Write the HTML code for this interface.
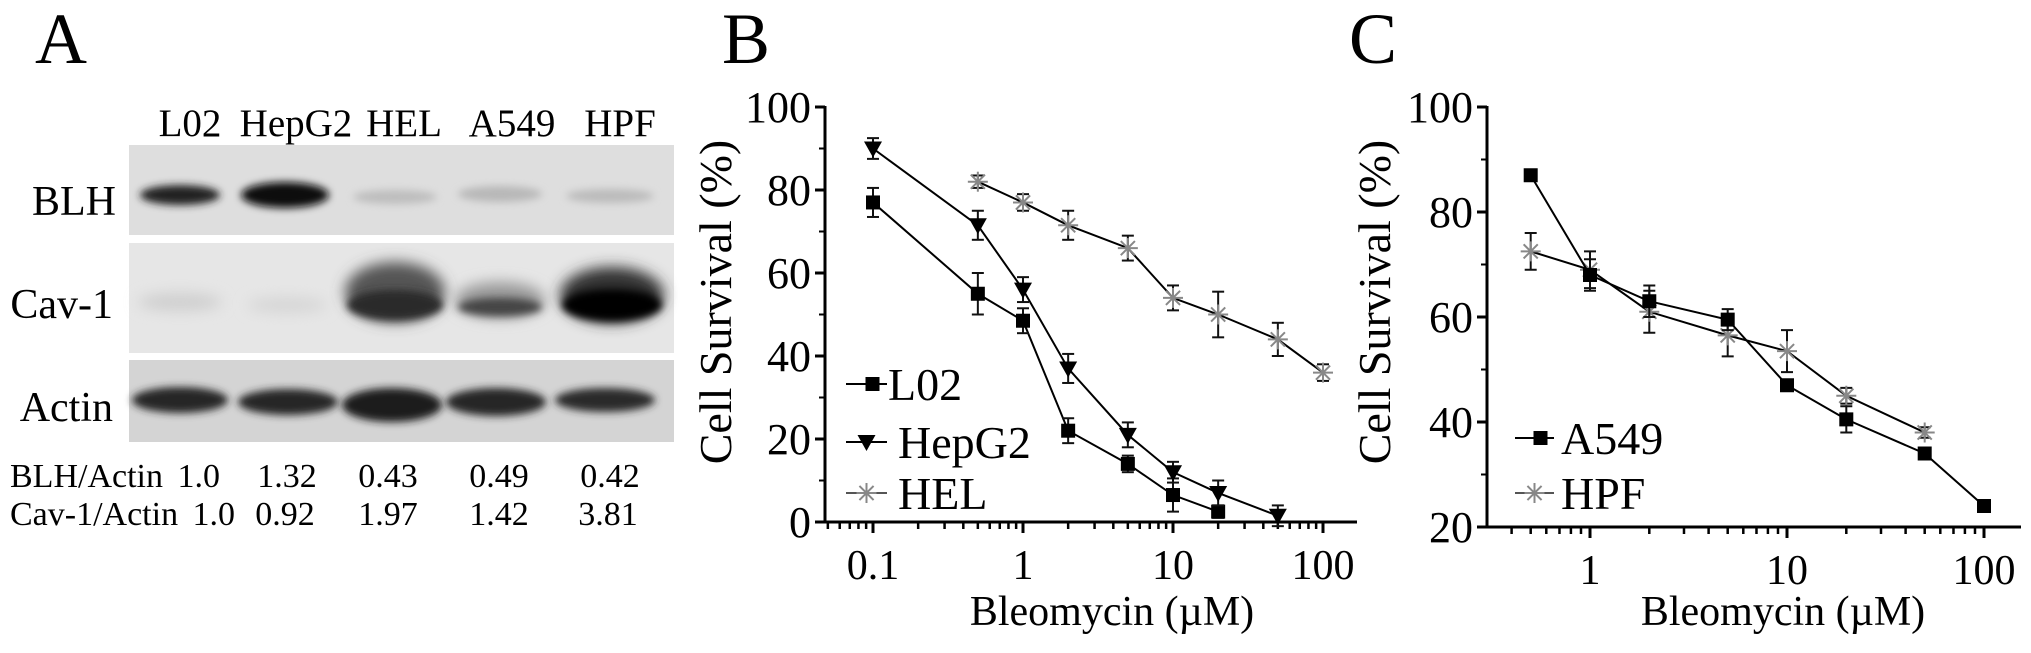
<!DOCTYPE html>
<html><head><meta charset="utf-8">
<style>
html,body{margin:0;padding:0;background:#fff;}
svg, svg text{font-family:"Liberation Serif","Times New Roman",serif;}
</style></head>
<body>
<svg id="fig" width="2031" height="648" viewBox="0 0 2031 648" xmlns="http://www.w3.org/2000/svg" font-family="Liberation Serif, serif">
<defs>
<filter id="blur" x="-30%" y="-80%" width="160%" height="260%"><feGaussianBlur stdDeviation="7"/></filter>
<filter id="blur2" x="-30%" y="-80%" width="160%" height="260%"><feGaussianBlur stdDeviation="4"/></filter>
</defs>
<text x="35" y="63" font-size="72">A</text>
<text x="722" y="63" font-size="72">B</text>
<text x="1349" y="63" font-size="72">C</text>

<g>
  <g font-size="39" text-anchor="middle">
    <text x="190" y="136">L02</text>
    <text x="296" y="136">HepG2</text>
    <text x="404" y="136">HEL</text>
    <text x="512" y="136">A549</text>
    <text x="620" y="136">HPF</text>
  </g>
  <g font-size="42" text-anchor="end">
    <text x="116" y="215">BLH</text>
    <text x="113" y="318">Cav-1</text>
    <text x="113" y="421">Actin</text>
  </g>
  <g>
    <rect x="129" y="145" width="545" height="90" fill="#dedede"/>
    <ellipse cx="180" cy="195" rx="40" ry="10" fill="#222" filter="url(#blur2)"/>
    <ellipse cx="285" cy="195" rx="44" ry="13" fill="#080808" filter="url(#blur2)"/>
    <ellipse cx="395" cy="197" rx="42" ry="7" fill="#bdbdbd" filter="url(#blur2)"/>
    <ellipse cx="500" cy="194" rx="42" ry="8" fill="#b8b8b8" filter="url(#blur2)"/>
    <ellipse cx="610" cy="196" rx="44" ry="7" fill="#bbbbbb" filter="url(#blur2)"/>
  </g>
  <g>
    <rect x="129" y="243" width="545" height="110" fill="#e6e6e6"/>
    <ellipse cx="180" cy="302" rx="42" ry="9" fill="#cfcfcf" filter="url(#blur)"/>
    <ellipse cx="287" cy="305" rx="40" ry="8" fill="#d6d6d6" filter="url(#blur)"/>
    <ellipse cx="395" cy="292" rx="50" ry="30" fill="#555" filter="url(#blur)"/>
    <ellipse cx="395" cy="305" rx="48" ry="15" fill="#2a2a2a" filter="url(#blur2)"/>
    <ellipse cx="500" cy="300" rx="45" ry="18" fill="#999" filter="url(#blur)"/>
    <ellipse cx="500" cy="307" rx="42" ry="9" fill="#444" filter="url(#blur2)"/>
    <ellipse cx="612" cy="295" rx="52" ry="28" fill="#333" filter="url(#blur)"/>
    <ellipse cx="612" cy="305" rx="50" ry="16" fill="#050505" filter="url(#blur2)"/>
  </g>
  <g>
    <rect x="129" y="360" width="545" height="82" fill="#d4d4d4"/>
    <ellipse cx="180" cy="400" rx="48" ry="13" fill="#252525" filter="url(#blur2)"/>
    <ellipse cx="288" cy="402" rx="50" ry="13" fill="#252525" filter="url(#blur2)"/>
    <ellipse cx="392" cy="405" rx="50" ry="17" fill="#1c1c1c" filter="url(#blur2)"/>
    <ellipse cx="496" cy="402" rx="50" ry="14" fill="#252525" filter="url(#blur2)"/>
    <ellipse cx="605" cy="400" rx="50" ry="12" fill="#2a2a2a" filter="url(#blur2)"/>
  </g>
  <g font-size="34">
    <text x="10" y="487">BLH/Actin</text>
    <text x="220" y="487" text-anchor="end">1.0</text>
    <text x="287" y="487" text-anchor="middle">1.32</text>
    <text x="388" y="487" text-anchor="middle">0.43</text>
    <text x="499" y="487" text-anchor="middle">0.49</text>
    <text x="610" y="487" text-anchor="middle">0.42</text>
    <text x="10" y="525">Cav-1/Actin</text>
    <text x="235" y="525" text-anchor="end">1.0</text>
    <text x="285" y="525" text-anchor="middle">0.92</text>
    <text x="388" y="525" text-anchor="middle">1.97</text>
    <text x="499" y="525" text-anchor="middle">1.42</text>
    <text x="608" y="525" text-anchor="middle">3.81</text>
  </g>
</g>
<g id="chartB" font-family="Liberation Serif, serif"></g>
<g id="chartC" font-family="Liberation Serif, serif"></g>
</svg>
<script>
// ---- Panel B data ----
const bDoses_L02 = [0.1, 0.5, 1, 2, 5, 10, 20];
const bVals_L02 = [77, 55, 48.5, 22, 14, 6.5, 2.5];
const bErr_L02 = [3.5, 5, 3, 3, 2, 4, 1.5];
const bDoses_HepG2 = [0.1, 0.5, 1, 2, 5, 10, 20, 50];
const bVals_HepG2 = [90, 71.5, 56, 37, 21, 12, 7, 1.5];
const bErr_HepG2 = [2.5, 3.5, 3, 3.5, 3, 2.5, 3, 2.5];
const bDoses_HEL = [0.5, 1, 2, 5, 10, 20, 50, 100];
const bVals_HEL = [82, 77, 71.5, 66, 54, 50, 44, 36];
const bErr_HEL = [1.5, 2, 3.5, 3, 3, 5.5, 4, 2];
const bYTicks = [0, 20, 40, 60, 80, 100];
const bXTicks = [0.1, 1, 10, 100];
const bXTickLabels = ["0.1", "1", "10", "100"];
// ---- Panel C data ----
const cDoses_A549 = [0.5, 1, 2, 5, 10, 20, 50, 100];
const cVals_A549 = [87, 68, 63, 59.5, 47, 40.5, 34, 24];
const cErr_A549 = [1, 3, 3, 2, 1, 2.5, 1, 1];
const cDoses_HPF = [0.5, 1, 2, 5, 10, 20, 50];
const cVals_HPF = [72.5, 69, 61, 56.5, 53.5, 45, 38];
const cErr_HPF = [3.5, 3.5, 4, 4, 4, 1.5, 1];
const cYTicks = [20, 40, 60, 80, 100];
const cXTicks = [1, 10, 100];
const cXTickLabels = ["1", "10", "100"];

const NS = "http://www.w3.org/2000/svg";
const FF = "Liberation Serif, serif";
function mk(parent, tag, attrs, text) {
  const e = document.createElementNS(NS, tag);
  for (const k in attrs) e.setAttribute(k, attrs[k]);
  if (tag === "text") e.setAttribute("font-family", FF);
  if (text !== undefined) e.textContent = text;
  parent.appendChild(e);
  return e;
}
function marker(g, type, x, y) {
  let e;
  if (type === "square") {
    e = mk(g, "rect", {x: x - 7, y: y - 7, width: 14, height: 14, fill: "#000"});
  } else if (type === "tri") {
    e = mk(g, "polygon", {points: (x-9)+","+(y-7)+" "+(x+9)+","+(y-7)+" "+x+","+(y+9), fill: "#000"});
  } else {
    e = mk(g, "g", {stroke: "#888", "stroke-width": 2});
    for (let a = 0; a < 4; a++) {
      const t = a * Math.PI / 4;
      mk(e, "line", {x1: x - 10*Math.cos(t), y1: y - 10*Math.sin(t), x2: x + 10*Math.cos(t), y2: y + 10*Math.sin(t)});
    }
  }
  return e;
}
function drawChart(root, cfg) {
  const X = v => cfg.x0 + cfg.dec * Math.log10(v / cfg.xref);
  const Y = v => cfg.yBase - (v - cfg.ymin) * (cfg.yBase - cfg.yTop) / (cfg.ymax - cfg.ymin);
  const ax = mk(root, "g", {stroke: "#000", "stroke-width": 3});
  
  
  mk(ax, "line", {x1: cfg.axX, y1: cfg.yTop - 1, x2: cfg.axX, y2: cfg.yBase + 1});
  mk(ax, "line", {x1: cfg.axX - 10, y1: cfg.yBase, x2: cfg.axEnd, y2: cfg.yBase});
  cfg.yTicks.forEach((t, i) => {
    mk(ax, "line", {x1: cfg.axX - 10, y1: Y(t), x2: cfg.axX, y2: Y(t)});
    if (i < cfg.yTicks.length - 1) {
      const m = (t + cfg.yTicks[i+1]) / 2;
      mk(ax, "line", {x1: cfg.axX - 6, y1: Y(m), x2: cfg.axX, y2: Y(m), "stroke-width": 2});
    }
    const lb = mk(root, "text", {x: cfg.axX - 14, y: Y(t) + 15, "font-size": 44, "text-anchor": "end"}, String(t));
    
    
  });
  for (let d = -3; d <= 3; d++) {
    for (let k = 1; k <= 9; k++) {
      const v = k * Math.pow(10, d);
      const px = X(v);
      if (px < cfg.axX + 2 || px > cfg.axEnd - 2) continue;
      mk(ax, "line", {x1: px, y1: cfg.yBase, x2: px, y2: cfg.yBase + (k === 1 ? 11 : 7), "stroke-width": k === 1 ? 3 : 2.5});
    }
  }
  cfg.xTicks.forEach((t, i) => {
    const lb = mk(root, "text", {x: X(t), y: cfg.yBase + 57, "font-size": 42, "text-anchor": "middle"}, cfg.xTickLabels[i]);
    
    
  });
  const xt = mk(root, "text", {x: cfg.xTitleX, y: 625, "font-size": 42, "text-anchor": "middle"}, "Bleomycin (\u00b5M)");
  
  
  const yt = mk(root, "text", {x: 0, y: 0, "font-size": 46, "text-anchor": "middle", transform: "translate(" + (cfg.yTitleX + 15) + ",302) rotate(-90)"}, "Cell Survival (%)");
  
  
  cfg.series.forEach(s => {
    const g = mk(root, "g", {});
    
    
    const pts = s.x.map((d, i) => X(d) + "," + Y(s.y[i])).join(" ");
    mk(g, "polyline", {points: pts, fill: "none", stroke: "#000", "stroke-width": 2});
    s.x.forEach((d, i) => {
      const px = X(d), py = Y(s.y[i]), e = s.e[i];
      const eb = mk(g, "g", {stroke: "#111", "stroke-width": 2});
      
      
      mk(eb, "line", {x1: px, y1: Y(s.y[i] + e), x2: px, y2: Y(s.y[i] - e)});
      mk(eb, "line", {x1: px - 6, y1: Y(s.y[i] + e), x2: px + 6, y2: Y(s.y[i] + e)});
      mk(eb, "line", {x1: px - 6, y1: Y(s.y[i] - e), x2: px + 6, y2: Y(s.y[i] - e)});
      const m = marker(g, s.marker, px, py);
      
      
    });
  });
  cfg.legend.forEach(l => {
    const g = mk(root, "g", {});
    
    
    mk(g, "line", {x1: l.x1, y1: l.y, x2: l.x2, y2: l.y, stroke: l.marker === "star" ? "#555" : "#000", "stroke-width": 2});
    marker(g, l.marker, (l.x1 + l.x2) / 2 + (l.marker === "square" ? 6 : 0), l.y);
    mk(g, "text", {x: l.tx, y: l.y + 16, "font-size": 46}, l.name);
  });
}
drawChart(document.getElementById("chartB"), {
  x0: 873, dec: 150, xref: 0.1, axX: 825, axEnd: 1357, yBase: 522, yTop: 107, ymin: 0, ymax: 100,
  yTicks: bYTicks, xTicks: bXTicks, xTickLabels: bXTickLabels, xTitleX: 1112, yTitleX: 716,
  series: [
    {name: "L02", x: bDoses_L02, y: bVals_L02, e: bErr_L02, marker: "square"},
    {name: "HepG2", x: bDoses_HepG2, y: bVals_HepG2, e: bErr_HepG2, marker: "tri"},
    {name: "HEL", x: bDoses_HEL, y: bVals_HEL, e: bErr_HEL, marker: "star"}
  ],
  legend: [
    {name: "L02", marker: "square", x1: 846, x2: 887, y: 384, tx: 888},
    {name: "HepG2", marker: "tri", x1: 846, x2: 887, y: 442, tx: 898},
    {name: "HEL", marker: "star", x1: 846, x2: 887, y: 493, tx: 898}
  ]
});
drawChart(document.getElementById("chartC"), {
  x0: 1590, dec: 197, xref: 1, axX: 1487, axEnd: 2021, yBase: 527, yTop: 107, ymin: 20, ymax: 100,
  yTicks: cYTicks, xTicks: cXTicks, xTickLabels: cXTickLabels, xTitleX: 1783, yTitleX: 1375,
  series: [
    {name: "HPF", x: cDoses_HPF, y: cVals_HPF, e: cErr_HPF, marker: "star"},
    {name: "A549", x: cDoses_A549, y: cVals_A549, e: cErr_A549, marker: "square"}
  ],
  legend: [
    {name: "A549", marker: "square", x1: 1515, x2: 1554, y: 438, tx: 1561},
    {name: "HPF", marker: "star", x1: 1515, x2: 1554, y: 493, tx: 1561}
  ]
});
</script>
</body></html>
